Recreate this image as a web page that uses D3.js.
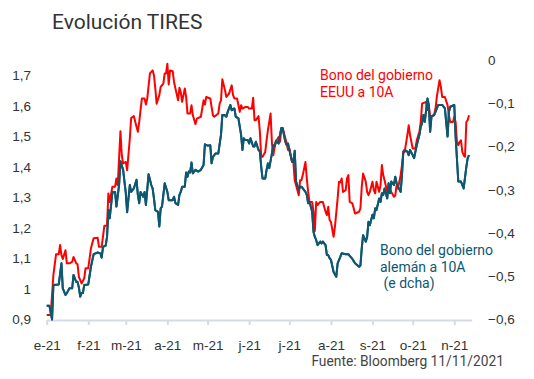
<!DOCTYPE html>
<html>
<head>
<meta charset="utf-8">
<script src="https://cdn.jsdelivr.net/npm/d3@7"></script>
<style>
  html, body { margin: 0; padding: 0; background: #fff; }
  svg { display: block; font-family: Roboto, "Noto Sans", sans-serif; }
</style>
</head>
<body>
<svg id="chart" width="534" height="379"></svg>
<script>
// ---------- DATA ----------
const title = "Evolución TIRES";
const sourceText = "Fuente: Bloomberg 11/11/2021";
const usLabel = ["Bono del gobierno", "EEUU a 10A"];
const deLabel = ["Bono del gobierno", "alemán a 10A", " (e dcha)"];

const monthStarts = ["01-01","02-01","03-01","04-01","05-01","06-01","07-01","08-01","09-01","10-01","11-01"];
const monthLabels = ["e-21","f-21","m-21","a-21","m-21","j-21","j-21","a-21","s-21","o-21","n-21"];
const leftTicks = [0.9, 1, 1.1, 1.2, 1.3, 1.4, 1.5, 1.6, 1.7];
const rightTicks = [-0.6, -0.5, -0.4, -0.3, -0.2, -0.1, 0];

// US 10Y (left axis)
const usDates = ["01-01","01-04","01-06","01-08","01-10","01-11","01-12","01-13","01-15","01-16","01-18","01-20","01-21","01-23","01-24","01-25","01-27","01-29","01-30",
"02-01","02-03","02-05","02-08","02-09","02-11","02-13","02-15","02-16","02-17","02-19","02-21","02-22","02-23","02-25","02-26","02-27",
"03-01","03-02","03-04","03-05","03-07","03-09","03-10","03-11","03-13","03-15","03-16","03-17","03-19","03-21","03-22","03-23","03-24","03-26","03-27","03-29","03-30","03-31",
"04-01","04-02","04-03","04-05","04-06","04-07","04-09","04-10","04-11","04-12","04-14","04-15","04-16","04-18","04-19","04-20","04-22","04-23","04-26","04-28","04-29","04-30",
"05-03","05-04","05-05","05-06","05-09","05-10","05-11","05-12","05-14","05-15","05-17","05-19","05-20","05-21","05-23","05-25","05-26","05-27","05-29","05-31",
"06-01","06-03","06-04","06-05","06-06","06-08","06-09","06-10","06-11","06-13","06-14","06-15","06-17","06-18","06-19","06-20","06-21","06-23","06-24","06-25","06-26","06-28","06-29","06-30",
"07-01","07-03","07-04","07-05","07-06","07-08","07-09","07-10","07-11","07-13","07-14","07-15","07-16","07-18","07-19","07-20","07-21","07-22","07-24","07-25","07-26","07-28","07-29","07-30","07-31",
"08-01","08-03","08-04","08-06","08-07","08-08","08-09","08-10","08-12","08-13","08-14","08-15","08-17","08-18","08-19","08-22","08-23","08-24","08-25","08-27","08-28","08-29","08-30",
"09-01","09-02","09-03","09-04","09-06","09-07","09-08","09-09","09-10","09-12","09-13","09-14","09-15","09-17","09-18","09-19","09-20","09-22","09-23","09-24","09-25","09-27","09-28","09-29",
"10-01","10-03","10-04","10-06","10-07","10-08","10-11","10-12","10-13","10-14","10-17","10-18","10-19","10-20","10-21","10-22","10-23","10-25","10-27","10-28","10-29","10-31",
"11-01","11-02","11-03","11-04","11-05","11-06","11-07","11-08","11-09","11-10","11-11","11-12"];
const usValues = [0.915,0.915,1.046,1.114,1.114,1.144,1.111,1.098,1.127,1.084,1.084,1.089,1.105,1.084,1.081,1.04,1.018,1.035,1.068,
1.068,1.133,1.166,1.168,1.138,1.138,1.207,1.207,1.313,1.285,1.335,1.335,1.362,1.34,1.517,1.438,1.411,
1.416,1.389,1.493,1.56,1.566,1.531,1.515,1.547,1.624,1.624,1.604,1.624,1.706,1.716,1.70,1.657,1.607,1.635,1.662,1.673,1.706,1.706,
1.738,1.67,1.716,1.713,1.678,1.657,1.618,1.659,1.645,1.613,1.657,1.629,1.575,1.575,1.602,1.569,1.54,1.558,1.564,1.618,1.604,1.629,
1.624,1.596,1.569,1.564,1.575,1.607,1.618,1.687,1.651,1.629,1.64,1.667,1.635,1.624,1.624,1.58,1.602,1.591,1.596,1.596,
1.591,1.591,1.626,1.553,1.553,1.566,1.515,1.433,1.433,1.449,1.487,1.52,1.575,1.477,1.438,1.465,1.482,1.498,1.482,1.52,1.528,1.493,1.477,1.455,
1.46,1.416,1.416,1.356,1.34,1.307,1.356,1.356,1.373,1.416,1.362,1.318,1.285,1.285,1.253,1.19,1.285,1.275,1.285,1.285,1.285,1.253,1.242,1.269,1.226,
1.22,1.171,1.204,1.297,1.351,1.349,1.362,1.318,1.324,1.362,1.373,1.285,1.28,1.264,1.247,1.253,1.264,1.335,1.378,1.351,1.318,1.307,1.318,
1.351,1.324,1.313,1.351,1.318,1.34,1.406,1.373,1.356,1.318,1.335,1.329,1.318,1.302,1.307,1.34,1.329,1.373,1.406,1.449,1.449,1.504,1.536,1.504,
1.46,1.46,1.487,1.515,1.547,1.607,1.613,1.586,1.602,1.564,1.569,1.591,1.629,1.657,1.684,1.662,1.629,1.629,1.602,1.569,1.547,1.547,
1.564,1.547,1.482,1.471,1.482,1.487,1.449,1.438,1.433,1.547,1.553,1.569];

// German 10Y (right axis)
const deDates = ["01-01","01-03","01-05","01-06","01-10","01-12","01-13","01-15","01-16","01-18","01-20","01-21","01-23","01-24","01-25","01-26","01-27","01-28","01-29",
"02-01","02-03","02-05","02-08","02-10","02-11","02-12","02-14","02-15","02-16","02-17","02-19","02-21","02-22","02-24","02-25","02-27",
"03-01","03-02","03-04","03-05","03-07","03-09","03-10","03-11","03-12","03-14","03-15","03-16","03-18","03-20","03-21","03-22","03-23","03-25","03-26","03-27","03-28","03-30",
"04-01","04-02","04-05","04-06","04-07","04-09","04-10","04-11","04-12","04-14","04-15","04-16","04-17","04-18","04-19","04-20","04-22","04-24","04-26","04-28","04-29",
"05-01","05-03","05-04","05-05","05-06","05-07","05-09","05-11","05-12","05-14","05-15","05-16","05-18","05-19","05-21","05-22","05-24","05-25","05-26","05-27","05-28","05-29","05-31",
"06-01","06-02","06-04","06-05","06-06","06-08","06-09","06-10","06-11","06-13","06-14","06-15","06-16","06-18","06-19","06-20","06-21","06-23","06-24","06-25","06-26","06-28","06-29","06-30",
"07-01","07-03","07-04","07-05","07-06","07-08","07-09","07-10","07-11","07-13","07-14","07-15","07-16","07-18","07-19","07-20","07-21","07-22","07-24","07-25","07-26","07-28","07-29","07-30","07-31",
"08-01","08-03","08-05","08-06","08-08","08-09","08-12","08-14","08-15","08-17","08-18","08-19","08-22","08-23","08-24","08-25","08-27","08-28","08-29","08-30",
"09-01","09-02","09-03","09-04","09-06","09-07","09-08","09-09","09-10","09-12","09-13","09-14","09-15","09-17","09-18","09-19","09-20","09-22","09-23","09-24","09-25","09-27","09-28","09-29",
"10-01","10-02","10-03","10-04","10-06","10-07","10-08","10-09","10-10","10-12","10-13","10-14","10-15","10-17","10-18","10-19","10-20","10-23","10-24","10-25","10-27","10-28","10-29",
"11-01","11-02","11-04","11-06","11-08","11-10","11-11","11-12"];
const deValues = [-0.568,-0.568,-0.6,-0.52,-0.519,-0.47,-0.528,-0.543,-0.539,-0.528,-0.528,-0.497,-0.513,-0.513,-0.526,-0.547,-0.539,-0.539,-0.52,
-0.519,-0.478,-0.449,-0.445,-0.447,-0.457,-0.432,-0.429,-0.409,-0.347,-0.366,-0.306,-0.305,-0.339,-0.289,-0.234,-0.254,
-0.308,-0.352,-0.289,-0.305,-0.297,-0.277,-0.312,-0.331,-0.305,-0.316,-0.305,-0.335,-0.264,-0.289,-0.297,-0.32,-0.347,-0.351,-0.385,-0.343,-0.339,-0.285,
-0.305,-0.324,-0.324,-0.316,-0.331,-0.335,-0.312,-0.305,-0.293,-0.293,-0.26,-0.27,-0.258,-0.26,-0.237,-0.262,-0.254,-0.258,-0.254,-0.243,-0.195,
-0.198,-0.197,-0.239,-0.224,-0.22,-0.216,-0.216,-0.173,-0.127,-0.128,-0.131,-0.12,-0.104,-0.116,-0.112,-0.131,-0.135,-0.154,-0.173,-0.208,-0.181,-0.185,-0.185,
-0.193,-0.181,-0.2,-0.2,-0.189,-0.208,-0.212,-0.247,-0.274,-0.274,-0.254,-0.239,-0.25,-0.216,-0.197,-0.2,-0.187,-0.193,-0.173,-0.157,-0.158,-0.189,-0.197,-0.193,
-0.208,-0.235,-0.235,-0.21,-0.281,-0.3,-0.293,-0.293,-0.297,-0.305,-0.312,-0.331,-0.328,-0.351,-0.397,-0.409,-0.416,-0.428,-0.42,-0.424,-0.42,-0.428,-0.451,-0.451,-0.458,
-0.462,-0.49,-0.501,-0.47,-0.455,-0.447,-0.449,-0.449,-0.453,-0.46,-0.465,-0.47,-0.478,-0.475,-0.435,-0.405,-0.42,-0.409,-0.374,-0.382,
-0.358,-0.366,-0.343,-0.347,-0.32,-0.328,-0.308,-0.312,-0.297,-0.32,-0.285,-0.308,-0.281,-0.289,-0.27,-0.285,-0.293,-0.305,-0.266,-0.212,-0.208,-0.212,-0.22,-0.208,
-0.22,-0.227,-0.212,-0.197,-0.173,-0.154,-0.146,-0.127,-0.143,-0.089,-0.104,-0.166,-0.131,-0.127,-0.12,-0.112,-0.104,-0.104,-0.108,-0.112,-0.177,-0.12,-0.108,
-0.104,-0.177,-0.281,-0.281,-0.297,-0.247,-0.227,-0.22];

// ---------- CHART ----------
const parse = d3.timeParse("%Y-%m-%d");
const toDate = s => parse("2021-" + s);
const usData = usDates.map((d, i) => ({ date: toDate(d), value: usValues[i] }));
const deData = deDates.map((d, i) => ({ date: toDate(d), value: deValues[i] }));

const RED = "#ff0000";
const TEAL = "#0d5870";
const TEXT = "#333333";
const AXIS = "#d5dbe4";

const svg = d3.select("#chart");

const x = d3.scaleTime()
  .domain([toDate("01-01"), toDate("11-14")])
  .range([46.7, 471.7]);
const yL = d3.scaleLinear().domain([0.9, 1.75]).range([319.5, 60]);
const yR = d3.scaleLinear().domain([-0.6, 0]).range([319.5, 60]);

const loc = d3.formatLocale({ decimal: ",", thousands: ".", grouping: [3], currency: ["", "€"], minus: "\u2212" });
const fmt = loc.format("~g");

// Title
svg.append("text")
  .attr("x", 52).attr("y", 29)
  .attr("font-size", 21).attr("fill", TEXT)
  .text(title);

// Left axis
const gL = svg.append("g").attr("transform", "translate(31,0)")
  .call(d3.axisLeft(yL).tickValues(leftTicks).tickSize(0).tickPadding(0).tickFormat(fmt));
gL.select(".domain").remove();
gL.selectAll("text").attr("font-size", 13.5).attr("fill", TEXT).attr("font-family", null);

// Right axis
const gR = svg.append("g").attr("transform", "translate(488,0)")
  .call(d3.axisRight(yR).tickValues(rightTicks).tickSize(0).tickPadding(0).tickFormat(fmt));
gR.select(".domain").remove();
gR.selectAll("text").attr("font-size", 13.5).attr("fill", TEXT).attr("font-family", null);

// Bottom axis
const gB = svg.append("g").attr("transform", "translate(0,320)")
  .call(d3.axisBottom(x).tickValues(monthStarts.map(toDate)).tickSize(5).tickSizeOuter(0).tickPadding(15)
    .tickFormat((d, i) => monthLabels[i]));
gB.select(".domain").attr("stroke", AXIS).attr("stroke-width", 2);
gB.selectAll(".tick line").attr("stroke", AXIS).attr("stroke-width", 2);
gB.selectAll("text").attr("font-size", 13.5).attr("fill", TEXT).attr("font-family", null);

// Lines
const lineUS = d3.line().x(d => x(d.date)).y(d => yL(d.value));
const lineDE = d3.line().x(d => x(d.date)).y(d => yR(d.value));

svg.append("path").datum(deData)
  .attr("fill", "none").attr("stroke", TEAL).attr("stroke-width", 2)
  .attr("stroke-linejoin", "round").attr("d", lineDE);
svg.append("path").datum(usData)
  .attr("fill", "none").attr("stroke", RED).attr("stroke-width", 2)
  .attr("stroke-linejoin", "round").attr("d", lineUS);
// redraw DE on top where it crosses (reference shows teal mostly above red in overlap)
svg.append("path").datum(deData)
  .attr("fill", "none").attr("stroke", TEAL).attr("stroke-width", 2)
  .attr("stroke-linejoin", "round").attr("d", lineDE);

// Labels
const usT = svg.append("text").attr("x", 320).attr("y", 80).attr("font-size", 14).attr("fill", RED);
usLabel.forEach((t, i) => usT.append("tspan").attr("x", 320).attr("dy", i ? 17 : 0).text(t));
const deT = svg.append("text").attr("x", 380).attr("y", 255).attr("font-size", 14).attr("fill", TEAL)
  .attr("xml:space", "preserve").style("white-space", "pre");
deLabel.forEach((t, i) => deT.append("tspan").attr("x", 380).attr("dy", i ? 16.7 : 0).text(t));

// Source
svg.append("text")
  .attr("x", 504).attr("y", 366).attr("text-anchor", "end")
  .attr("font-size", 13.8).attr("fill", "#444")
  .text(sourceText);
</script>
</body>
</html>
